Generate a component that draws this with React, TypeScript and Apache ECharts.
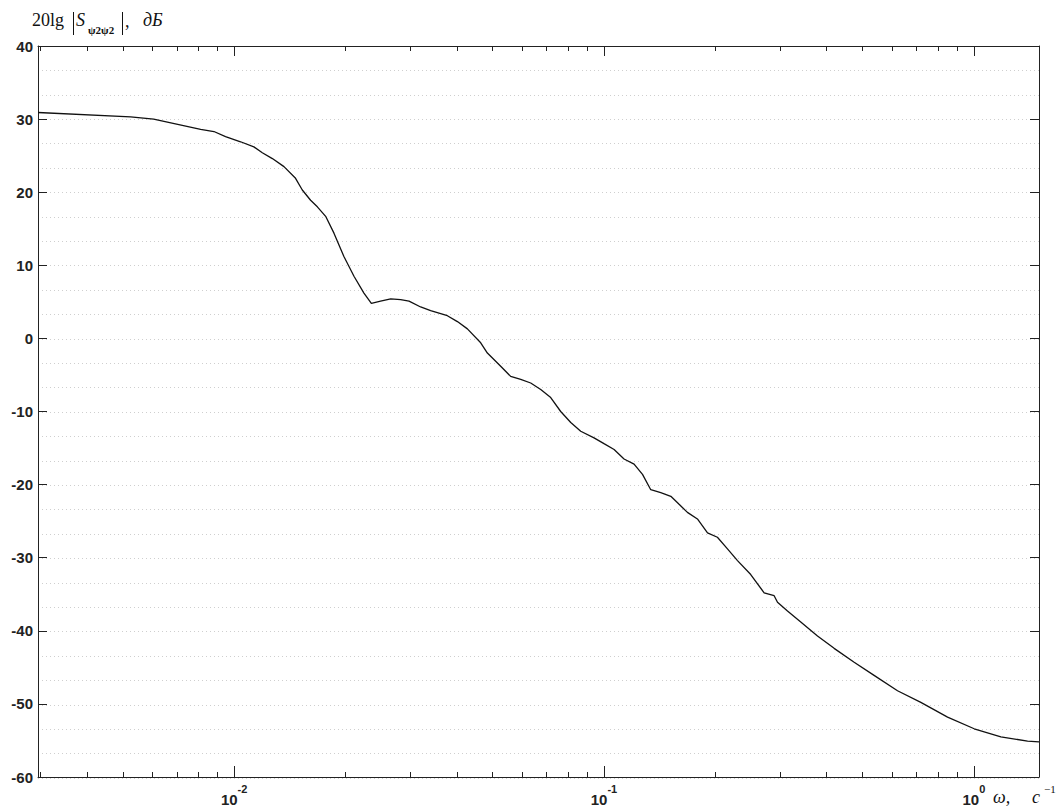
import React, { useEffect, useRef } from 'react';
import * as echarts from 'echarts';

// Frequency, rad/s (log axis)
const omega = [
  0.00295, 0.00525, 0.00606, 0.00812, 0.00882, 0.00948, 0.01041, 0.01131, 0.01192, 0.01269,
  0.01364, 0.01466, 0.01529, 0.0161, 0.01679, 0.01768, 0.01862, 0.01981, 0.02109, 0.02244,
  0.0235, 0.02489, 0.02651, 0.0282, 0.02971, 0.03194, 0.03399, 0.03772, 0.04015, 0.04273,
  0.04642, 0.04839, 0.05257, 0.05594, 0.05955, 0.06337, 0.06745, 0.07178, 0.07638, 0.08131,
  0.08652, 0.09399, 0.1, 0.1065, 0.1133, 0.1206, 0.1271, 0.1338, 0.1424, 0.1516,
  0.1596, 0.1681, 0.1789, 0.1905, 0.2026, 0.2157, 0.2296, 0.2493, 0.271, 0.2884,
  0.2945, 0.3134, 0.3404, 0.3778, 0.419, 0.4746, 0.5373, 0.6217, 0.7188, 0.8489,
  1.002, 1.183, 1.397, 1.5,
];

// 20lg|S|, dB
const gainDb = [
  30.9, 30.3, 30.0, 28.6, 28.3, 27.6, 26.9, 26.2, 25.4, 24.6,
  23.5, 21.9, 20.3, 18.9, 18.0, 16.7, 14.4, 11.2, 8.5, 6.2,
  4.8, 5.1, 5.4, 5.3, 5.1, 4.3, 3.8, 3.1, 2.3, 1.3,
  -0.6, -2.0, -3.8, -5.2, -5.6, -6.1, -7.0, -8.1, -10.0, -11.5,
  -12.7, -13.6, -14.4, -15.2, -16.5, -17.2, -18.6, -20.7, -21.1, -21.6,
  -22.7, -23.8, -24.7, -26.6, -27.2, -28.8, -30.4, -32.3, -34.8, -35.2,
  -36.1, -37.3, -38.8, -40.7, -42.4, -44.3, -46.1, -48.2, -49.8, -51.8,
  -53.4, -54.5, -55.1, -55.2,
];

const majorTicks = [0.01, 0.1, 1];
const minorTicks = [
  0.003, 0.004, 0.005, 0.006, 0.007, 0.008, 0.009,
  0.02, 0.03, 0.04, 0.05, 0.06, 0.07, 0.08, 0.09,
  0.2, 0.3, 0.4, 0.5, 0.6, 0.7, 0.8, 0.9,
];
const xMin = 0.00295;
const xMax = 1.5;
const yMin = -60;
const yMax = 40;
const yStep = 10;

const AXIS_COLOR = '#222';
const SANS = '"Liberation Sans", Arial, sans-serif';
const SERIF = '"Liberation Serif", "Times New Roman", serif';

const gridBox = { left: 38, right: 17, top: 46, bottom: 29 };

function buildOption(): any {
  const data = omega.map((w, i) => [w, gainDb[i]]);
  const xBase = (gridIndex: number, position: string, ticks: number[], len: number, labels: boolean, line: boolean) => ({
    type: 'log',
    logBase: 10,
    gridIndex,
    position,
    min: xMin,
    max: xMax,
    axisLine: { show: line, onZero: false, lineStyle: { color: AXIS_COLOR, width: 1 } },
    axisTick: { show: true, inside: true, length: len, customValues: ticks, lineStyle: { color: AXIS_COLOR, width: 1 } },
    axisLabel: labels
      ? {
          show: true,
          customValues: ticks,
          margin: 6,
          formatter: (v: number) => `{b|10}{s|${Math.round(Math.log10(v))}}`,
          rich: {
            b: { fontSize: 15, fontWeight: 'bold', fontFamily: SANS, color: '#222', lineHeight: 24, verticalAlign: 'bottom' },
            s: { fontSize: 11, fontWeight: 'bold', fontFamily: SANS, color: '#222', lineHeight: 13, verticalAlign: 'top' },
          },
        }
      : { show: false },
    splitLine: { show: false },
    minorTick: { show: false },
    minorSplitLine: { show: false },
  });
  const yBase = (position: string, labels: boolean) => ({
    type: 'value',
    gridIndex: 0,
    position,
    min: yMin,
    max: yMax,
    interval: yStep,
    axisLine: { show: true, onZero: false, lineStyle: { color: AXIS_COLOR, width: 1 } },
    axisTick: { show: true, inside: true, length: 9, lineStyle: { color: AXIS_COLOR, width: 1 } },
    axisLabel: labels
      ? { show: true, fontSize: 15, fontWeight: 'bold', fontFamily: SANS, color: '#222', margin: 5 }
      : { show: false },
    splitLine: { show: false },
  });
  const dotStyle = { color: '#cfcfcf', width: 1, type: [1, 3] };

  return {
    animation: false,
    backgroundColor: '#ffffff',
    grid: [
      { ...gridBox, containLabel: false },
      { ...gridBox, containLabel: false },
    ],
    xAxis: [
      xBase(0, 'bottom', majorTicks, 11, true, true),
      xBase(0, 'top', majorTicks, 10, false, true),
      xBase(1, 'bottom', minorTicks, 6, false, false),
      xBase(1, 'top', minorTicks, 5, false, false),
    ],
    yAxis: [
      yBase('left', true),
      yBase('right', false),
      {
        type: 'value',
        gridIndex: 1,
        position: 'left',
        min: yMin,
        max: yMax,
        interval: yStep,
        axisLine: { show: false, onZero: false },
        axisTick: { show: false },
        axisLabel: { show: false },
        splitLine: { show: true, lineStyle: dotStyle },
        minorTick: { show: false, splitNumber: 3 },
        minorSplitLine: { show: true, lineStyle: dotStyle },
      },
    ],
    series: [
      {
        type: 'line',
        xAxisIndex: 0,
        yAxisIndex: 0,
        data,
        symbol: 'none',
        showSymbol: false,
        silent: true,
        lineStyle: { color: '#111', width: 1.3 },
        z: 5,
      },
    ],
    graphic: [
      { type: 'text', x: 32, y: 20, style: { text: '20lg', font: `18px ${SERIF}`, fill: '#111', verticalAlign: 'middle', textVerticalAlign: 'middle' } },
      { type: 'line', shape: { x1: 73.5, y1: 12, x2: 73.5, y2: 35 }, style: { stroke: '#111', lineWidth: 1 } },
      { type: 'text', x: 76, y: 20, style: { text: 'S', font: `italic 18px ${SERIF}`, fill: '#111', verticalAlign: 'middle', textVerticalAlign: 'middle' } },
      { type: 'text', x: 88, y: 30, style: { text: 'ψ2ψ2', font: `bold 11px ${SERIF}`, fill: '#111', verticalAlign: 'middle', textVerticalAlign: 'middle' } },
      { type: 'line', shape: { x1: 122.5, y1: 12, x2: 122.5, y2: 35 }, style: { stroke: '#111', lineWidth: 1 } },
      { type: 'text', x: 125, y: 21, style: { text: ',', font: `18px ${SERIF}`, fill: '#111', verticalAlign: 'middle', textVerticalAlign: 'middle' } },
      { type: 'text', x: 143, y: 20, style: { text: 'дБ', font: `italic 18px ${SERIF}`, fill: '#111', verticalAlign: 'middle', textVerticalAlign: 'middle' } },

      { type: 'text', x: 993, y: 797, style: { text: 'ω,', font: `italic 18px ${SERIF}`, fill: '#111', verticalAlign: 'middle', textVerticalAlign: 'middle' } },
      { type: 'text', x: 1032, y: 797, style: { text: 'с', font: `italic 18px ${SERIF}`, fill: '#111', verticalAlign: 'middle', textVerticalAlign: 'middle' } },
      { type: 'text', x: 1044, y: 789, style: { text: '−1', font: `11px ${SERIF}`, fill: '#111', verticalAlign: 'middle', textVerticalAlign: 'middle' } },
    ],
  };
}

export default function App() {
  const ref = useRef<HTMLDivElement>(null);
  useEffect(() => {
    if (!ref.current) return;
    const chart = echarts.init(ref.current, undefined, { renderer: 'svg' });
    chart.setOption(buildOption());
    return () => chart.dispose();
  }, []);
  return (
    <div
      ref={ref}
      style={{ position: 'fixed', left: 0, top: 0, width: 1056, height: 807, background: '#fff' }}
    />
  );
}
